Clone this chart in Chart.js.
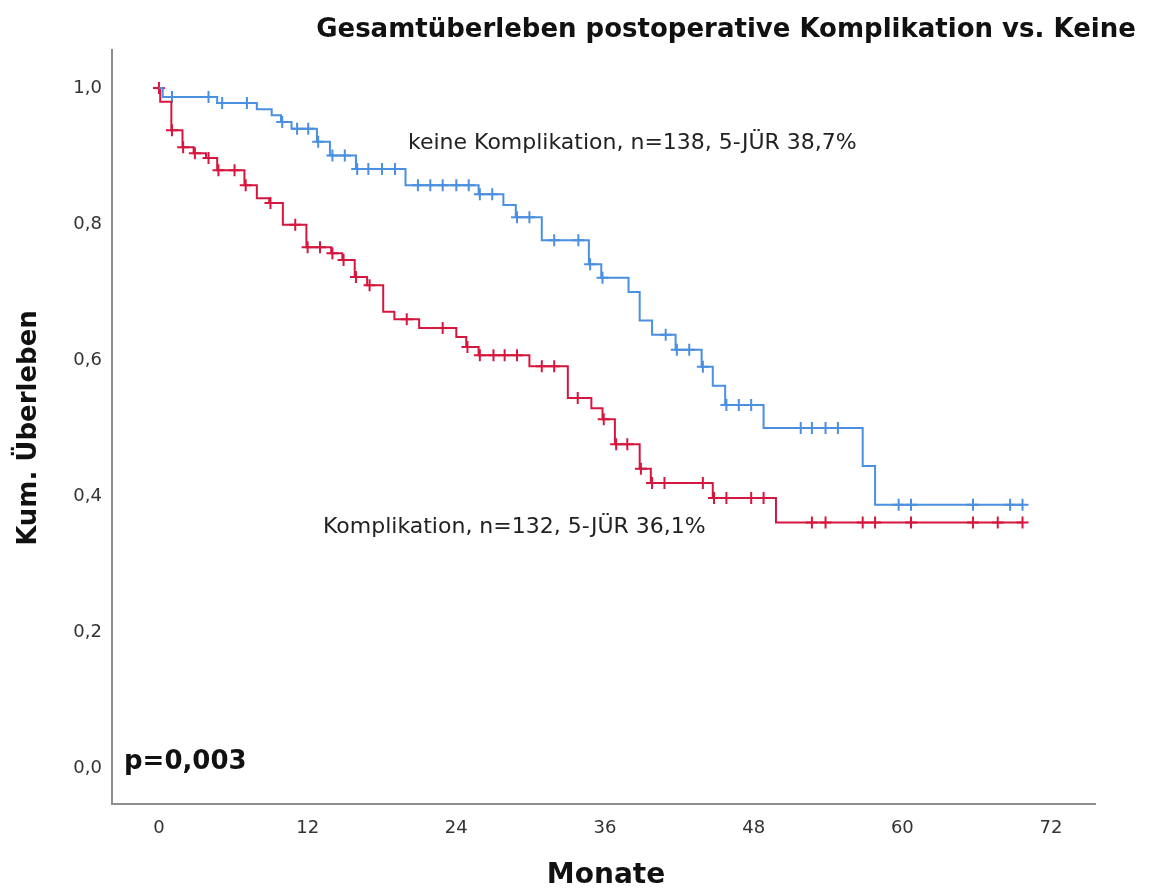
<!DOCTYPE html>
<html lang="de">
<head>
<meta charset="utf-8">
<title>Gesamtüberleben postoperative Komplikation vs. Keine</title>
<script src="https://cdn.jsdelivr.net/npm/chart.js@4.4.1/dist/chart.umd.min.js"></script>
<style>
  html, body { margin: 0; padding: 0; background: #ffffff; }
  #box { position: relative; width: 1150px; height: 890px; }
</style>
</head>
<body>
<div id="box"><canvas id="km"></canvas></div>
<script>
// Kaplan-Meier: Ereigniszeiten (Monate) und kumulatives Überleben
const keineZeit = [0, 0.3, 4.7, 7.9, 9.1, 9.85, 10.7, 12.75, 13.8, 15.9, 19.9, 25.8, 27.8, 28.8, 30.9,
  34.7, 35.7, 37.9, 38.8, 39.8, 41.7, 43.8, 44.7, 45.7, 48.8, 56.8, 57.8];
const keineUeberleben = [1.0, 0.987, 0.978, 0.969, 0.960, 0.950, 0.940, 0.921, 0.901, 0.881, 0.857, 0.844, 0.828, 0.810, 0.776,
  0.741, 0.721, 0.700, 0.658, 0.637, 0.615, 0.590, 0.562, 0.534, 0.500, 0.444, 0.387];
const keineZensiert = [1.05, 4.0, 5.1, 7.1, 9.95, 11.15, 12.05, 12.85, 14.0, 15.0, 16.0, 16.9, 18.0, 19.05, 20.9,
  21.9, 22.9, 24.0, 25.0, 25.9, 26.9, 28.9, 29.9, 31.9, 33.85, 34.8, 35.8, 40.9, 41.8, 42.8, 43.9, 45.8,
  46.8, 47.8, 51.8, 52.7, 53.8, 54.8, 59.7, 60.7, 65.7, 68.7, 69.7];

const komplZeit = [0, 0.1, 1.0, 1.9, 2.8, 3.8, 4.7, 6.9, 7.9, 8.9, 10.0, 11.9, 13.9, 14.8, 15.8, 16.8, 18.1,
  19.0, 21.0, 24.0, 24.8, 25.8, 29.9, 33.0, 34.9, 35.8, 36.8, 38.8, 39.7, 44.7, 49.8];
const komplUeberleben = [1.0, 0.98, 0.938, 0.913, 0.904, 0.897, 0.879, 0.857, 0.838, 0.831, 0.799, 0.766, 0.757, 0.747, 0.722, 0.710, 0.671,
  0.660, 0.647, 0.634, 0.619, 0.607, 0.591, 0.544, 0.529, 0.513, 0.476, 0.440, 0.419, 0.397, 0.361];
const komplZensiert = [0, 1.05, 1.95, 2.9, 4.0, 4.8, 6.1, 7.0, 9.0, 11.0, 12.0, 13.0, 14.0, 14.9, 15.9, 17.0,
  20.0, 22.9, 24.9, 25.9, 27.0, 27.9, 28.9, 30.9, 31.9, 33.8, 35.9, 36.9, 37.8, 38.9, 39.8, 40.8, 43.9,
  44.8, 45.8, 47.8, 48.8, 52.7, 53.8, 56.8, 57.8, 60.7, 65.7, 67.7, 69.7];

const monatTicks = [0, 12, 24, 36, 48, 60, 72];
const ueberlebenTicks = [0, 0.2, 0.4, 0.6, 0.8, 1.0];

const BLAU = '#4A8FE0';
const ROT = '#D5173F';
const ACHSE = '#8e8e8e';
const FONT = "'DejaVu Sans', sans-serif";

// Treppenkurve: Ereignisse plus Endpunkt bei der letzten Zensierung
function kurve(zeit, werte, zensiert) {
  const punkte = zeit.map((t, i) => ({ x: t, y: werte[i] }));
  const ende = Math.max(...zensiert);
  punkte.push({ x: ende, y: werte[werte.length - 1] });
  return punkte;
}

// Zensierungsmarken liegen auf der Kurve: Wert des letzten Ereignisses <= t
function marken(zeit, werte, zensiert) {
  return zensiert.map((t) => {
    let y = werte[0];
    zeit.forEach((z, i) => { if (z <= t) y = werte[i]; });
    return { x: t, y: y };
  });
}

const textPlugin = {
  id: 'texte',
  afterDraw(chart) {
    const ctx = chart.ctx;
    ctx.save();
    ctx.fillStyle = '#111';
    ctx.textBaseline = 'middle';

    ctx.font = `bold 26px ${FONT}`;
    ctx.textAlign = 'center';
    ctx.fillText('Gesamtüberleben postoperative Komplikation vs. Keine', 726, 30);

    ctx.font = `bold 28px ${FONT}`;
    ctx.fillText('Monate', 606, 876);

    ctx.save();
    ctx.translate(29, 428);
    ctx.rotate(-Math.PI / 2);
    ctx.font = `bold 26px ${FONT}`;
    ctx.fillText('Kum. Überleben', 0, 0);
    ctx.restore();

    ctx.textAlign = 'left';
    ctx.font = `bold 26px ${FONT}`;
    ctx.fillText('p=0,003', 124, 762);

    ctx.fillStyle = '#222';
    ctx.font = `22px ${FONT}`;
    ctx.fillText('keine Komplikation, n=138, 5-JÜR 38,7%', 408, 143);
    ctx.fillText('Komplikation, n=132, 5-JÜR 36,1%', 323, 527);
    ctx.restore();
  }
};

const ctx = document.getElementById('km').getContext('2d');
new Chart(ctx, {
  type: 'line',
  data: {
    datasets: [
      {
        label: 'keine Komplikation',
        data: kurve(keineZeit, keineUeberleben, keineZensiert),
        borderColor: BLAU,
        borderWidth: 2,
        pointRadius: 0,
        stepped: 'before',
        fill: false
      },
      {
        label: 'Komplikation',
        data: kurve(komplZeit, komplUeberleben, komplZensiert),
        borderColor: ROT,
        borderWidth: 2,
        pointRadius: 0,
        stepped: 'before',
        fill: false
      },
      {
        type: 'scatter',
        label: 'keine Komplikation zensiert',
        data: marken(keineZeit, keineUeberleben, keineZensiert),
        showLine: false,
        pointStyle: 'cross',
        pointRadius: 6,
        pointBorderWidth: 2,
        borderColor: BLAU,
        backgroundColor: BLAU
      },
      {
        type: 'scatter',
        label: 'Komplikation zensiert',
        data: marken(komplZeit, komplUeberleben, komplZensiert),
        showLine: false,
        pointStyle: 'cross',
        pointRadius: 6,
        pointBorderWidth: 2,
        borderColor: ROT,
        backgroundColor: ROT
      }
    ]
  },
  options: {
    responsive: true,
    maintainAspectRatio: false,
    animation: false,
    layout: { padding: { top: 50, right: 55, left: 0, bottom: 0 } },
    plugins: {
      legend: { display: false },
      tooltip: { enabled: false }
    },
    scales: {
      x: {
        type: 'linear',
        min: -3.79,
        max: 75.55,
        afterBuildTicks: (achse) => { achse.ticks = monatTicks.map((v) => ({ value: v })); },
        afterFit: (achse) => { achse.height = 86; },
        grid: { display: false, drawTicks: false },
        border: { display: true, color: ACHSE, width: 2 },
        ticks: {
          padding: 14,
          color: '#333',
          font: { family: FONT, size: 18 },
          maxRotation: 0
        }
      },
      y: {
        type: 'linear',
        min: -0.053,
        max: 1.056,
        afterBuildTicks: (achse) => { achse.ticks = ueberlebenTicks.map((v) => ({ value: v })); },
        afterFit: (achse) => { achse.width = 112; },
        grid: { display: false, drawTicks: false },
        border: { display: true, color: ACHSE, width: 2 },
        ticks: {
          padding: 10,
          color: '#333',
          font: { family: FONT, size: 18 },
          callback: (v) => v.toFixed(1).replace('.', ',')
        }
      }
    }
  },
  plugins: [textPlugin]
});
</script>
</body>
</html>
